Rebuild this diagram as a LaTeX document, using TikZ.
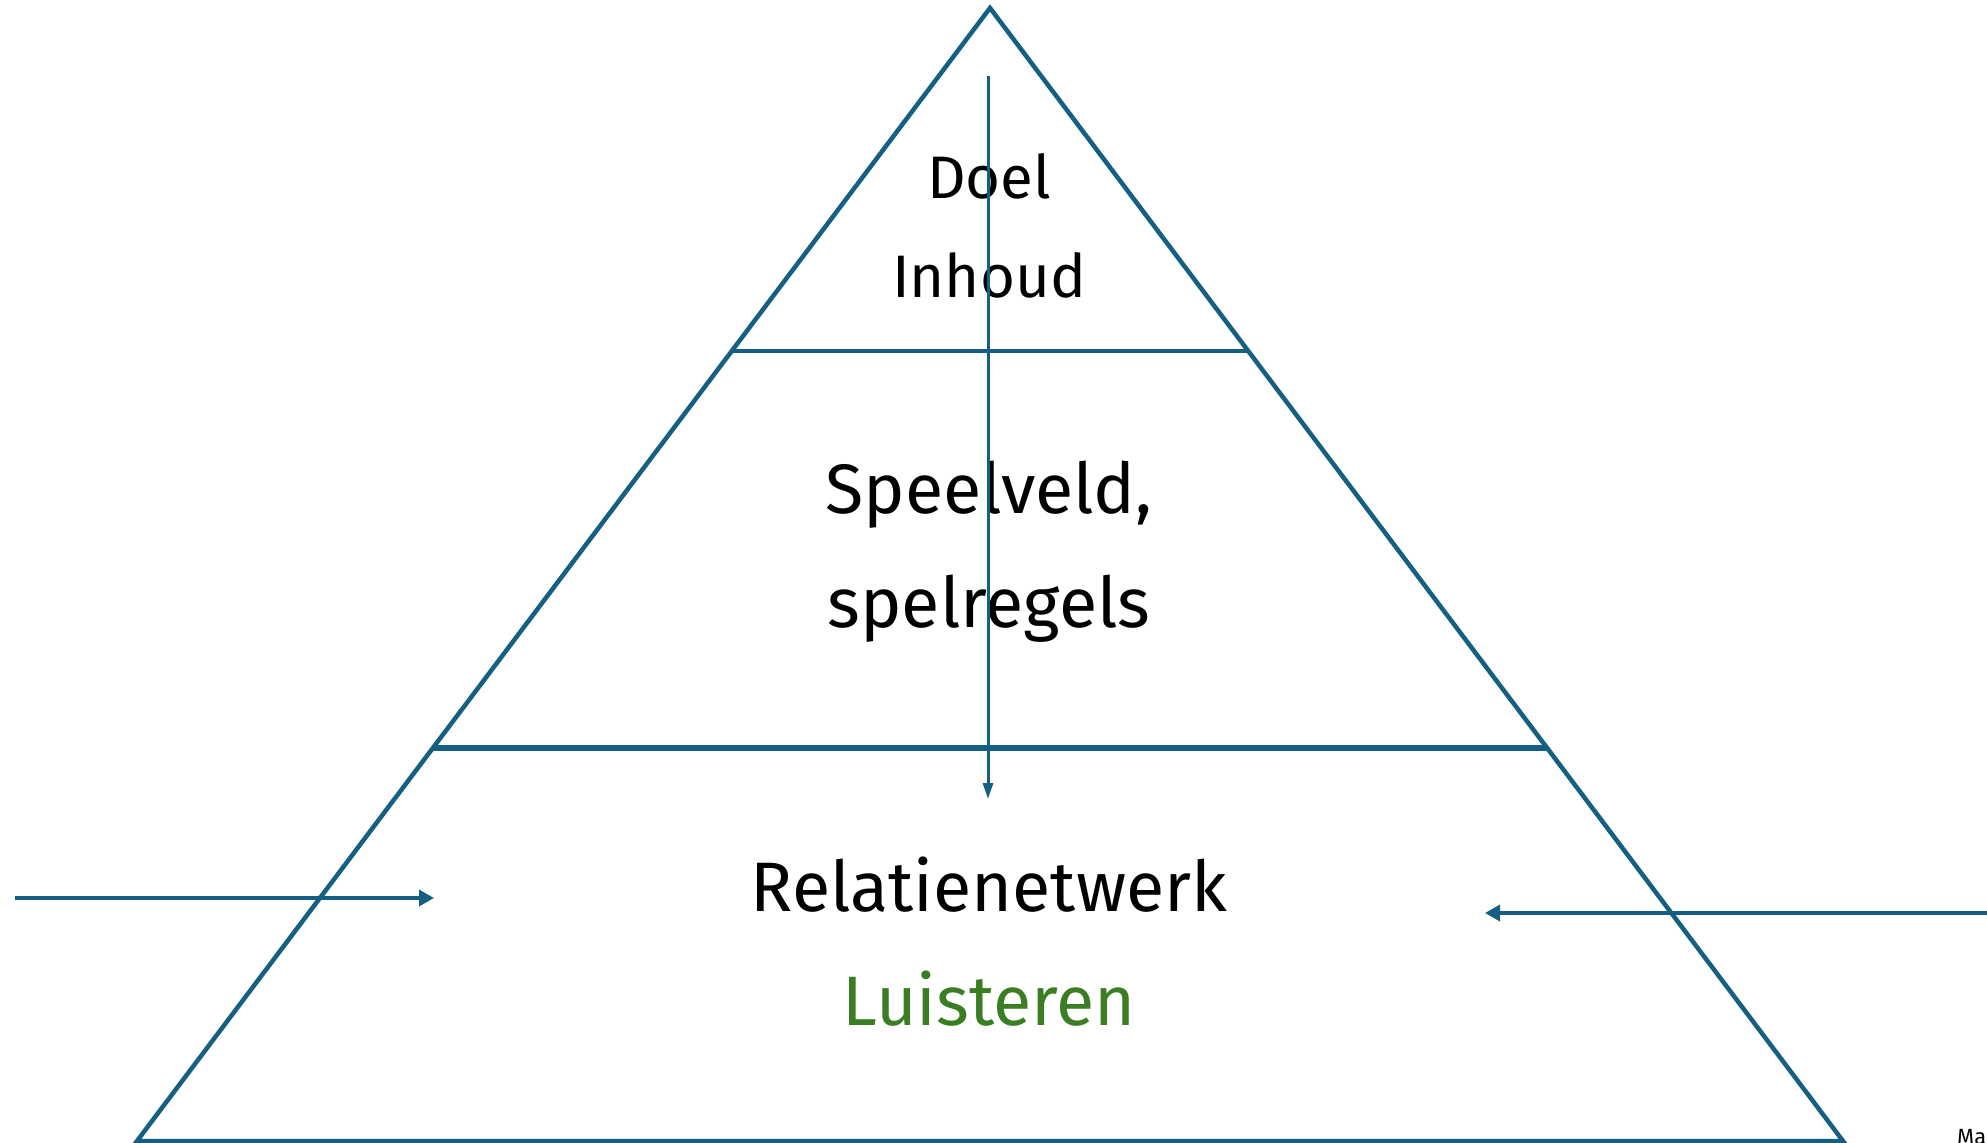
\documentclass[tikz,border=0pt]{standalone}
\usepackage{fontspec}
\setmainfont{Fira Sans}
\usetikzlibrary{arrows.meta}
\definecolor{pyrblue}{HTML}{156082}
\definecolor{lgreen}{HTML}{3B7D23}
\tikzset{
  edge/.style={draw=pyrblue, line width=4.5pt, line join=miter},
  band/.style={draw=pyrblue, line width=4.5pt},
  flow/.style={draw=pyrblue, line width=3.5pt, -{Triangle[length=15pt,width=16pt]}},
  downflow/.style={draw=pyrblue, line width=3pt, -{Triangle[length=16pt,width=10pt]}},
  lbl/.style={anchor=base, inner sep=0pt, align=center},
  big/.style={lbl, font=\fontsize{70}{82}\selectfont},
  small/.style={lbl, font=\fontsize{60}{70}\selectfont},
}
\begin{document}
\begin{tikzpicture}[x=1pt,y=-1pt]
\useasboundingbox (0,0) rectangle (1987,1143);
\clip (0,0) rectangle (1987,1143);
\fill[white] (0,0) rectangle (1987,1143);
% pyramid
\coordinate (apex) at (990,8);
\coordinate (bl) at (137,1141);
\coordinate (br) at (1843,1141);
\draw[edge] (bl) -- (apex) -- (br) -- cycle;
\coordinate (l1a) at (732,351);
\coordinate (l1b) at (1248,351);
\coordinate (l2a) at (433,748);
\coordinate (l2b) at (1546,748);
\draw[band] (l1a) -- (l1b);
\draw[band, line width=5.5pt] (l2a) -- (l2b);
% texts
\node[small] (doel) at (989,198) {Doel};
\node[small] (inhoud) at (989,297) {Inhoud};
\node[big] (speel) at (989,513) {Speelveld,};
\node[big] (regels) at (989,627) {spelregels};
\node[big] (rel) at (989,911) {Relatienetwerk};
\node[big, text=lgreen] (luis) at (989,1025) {Luisteren};
\node[anchor=base west, inner sep=0pt, font=\fontsize{22}{26}\selectfont] (ma) at (1957,1144) {Ma};
% arrows
\coordinate (vtop) at (988,76);
\coordinate (vbot) at (988,799);
\draw[downflow] (vtop) -- (vbot);
\coordinate (lstart) at (15,898);
\coordinate (lend) at (434,898);
\draw[flow] (lstart) -- (lend);
\coordinate (rstart) at (1990,913);
\coordinate (rend) at (1485,913);
\draw[flow] (rstart) -- (rend);
\end{tikzpicture}
\end{document}
